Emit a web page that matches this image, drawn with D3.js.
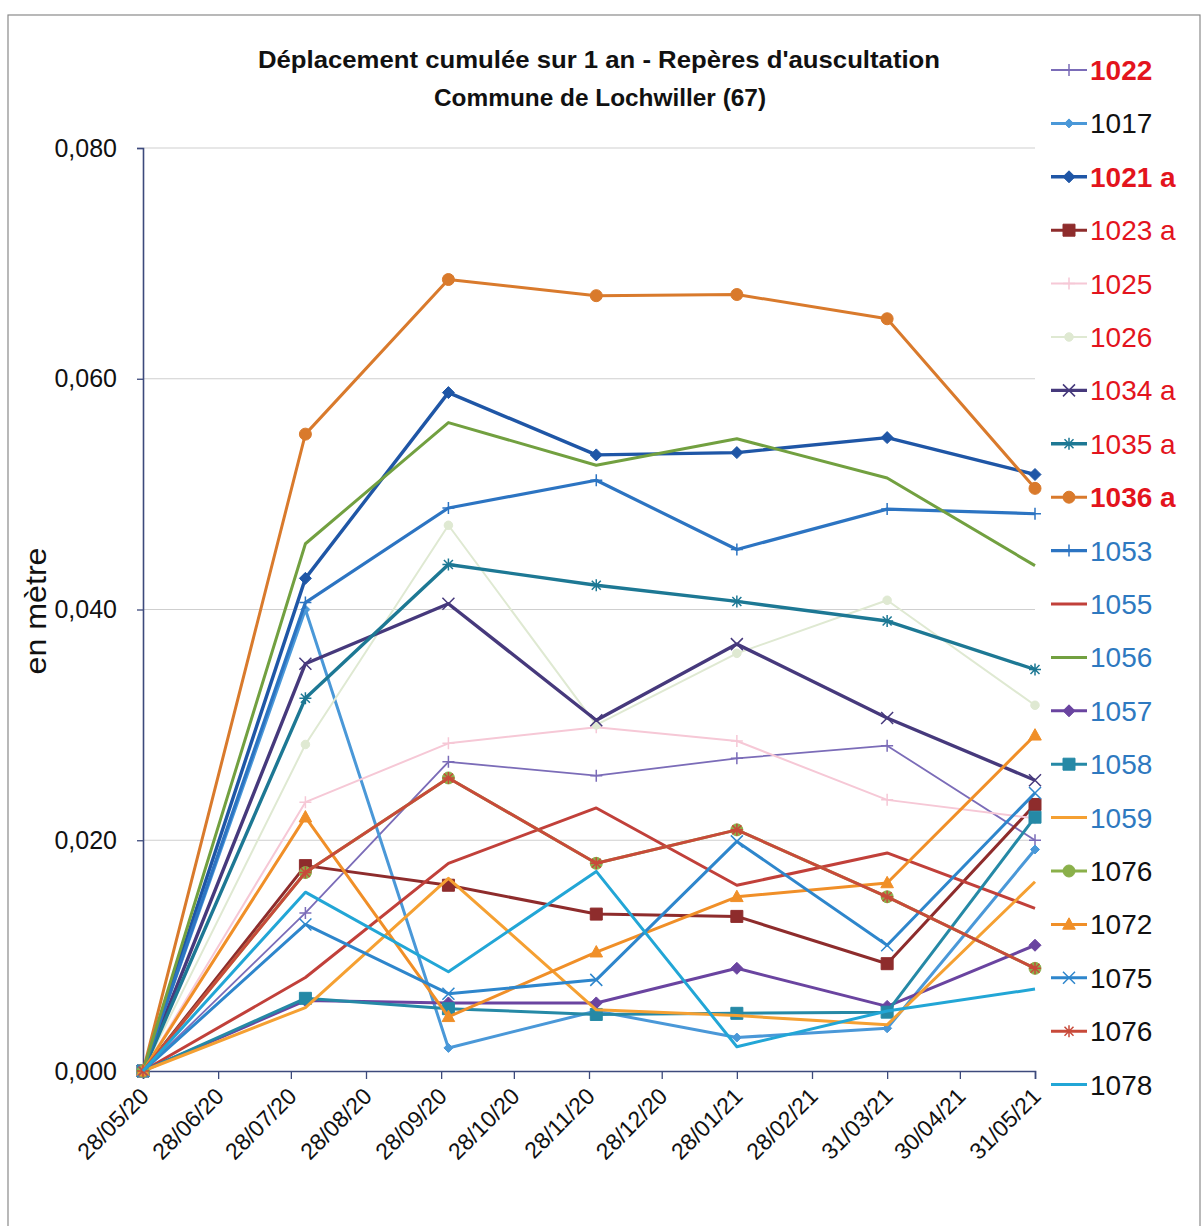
<!DOCTYPE html>
<html>
<head>
<meta charset="utf-8">
<script src="https://cdn.jsdelivr.net/npm/d3@7"></script>
<style>
  body { margin: 0; background: #fff; }
  svg { display: block; }
</style>
</head>
<body>
<script>
// measurement dates and axis ticks
var dates = ["2020-05-28", "2020-08-03", "2020-10-01", "2020-12-01", "2021-01-28", "2021-03-31", "2021-05-31"];
var tickDates = ["2020-05-28", "2020-06-28", "2020-07-28", "2020-08-28", "2020-09-28", "2020-10-28", "2020-11-28",
                 "2020-12-28", "2021-01-28", "2021-02-28", "2021-03-31", "2021-04-30", "2021-05-31"];
var yTicks = [0, 0.02, 0.04, 0.06, 0.08];

var names = ["1022", "1017", "1021 a", "1023 a", "1025", "1026", "1034 a", "1035 a", "1036 a", "1053",
             "1055", "1056", "1057", "1058", "1059", "1076", "1072", "1075", "1076", "1078"];

// cumulated displacement (m)
var v1022  = [0, 0.0137, 0.0268, 0.0256, 0.0271, 0.0282, 0.0200];
var v1017  = [0, 0.0400, 0.0020, 0.0052, 0.0029, 0.0037, 0.0192];
var v1021a = [0, 0.0427, 0.0588, 0.0534, 0.0536, 0.0549, 0.0517];
var v1023a = [0, 0.0178, 0.0161, 0.0136, 0.0134, 0.0093, 0.0231];
var v1025  = [0, 0.0233, 0.0284, 0.0298, 0.0286, 0.0235, 0.0219];
var v1026  = [0, 0.0283, 0.0473, 0.0300, 0.0362, 0.0408, 0.0317];
var v1034a = [0, 0.0353, 0.0405, 0.0304, 0.0370, 0.0306, 0.0252];
var v1035a = [0, 0.0323, 0.0439, 0.0421, 0.0407, 0.0390, 0.0348];
var v1036a = [0, 0.0552, 0.0686, 0.0672, 0.0673, 0.0652, 0.0505];
var v1053  = [0, 0.0406, 0.0488, 0.0512, 0.0452, 0.0487, 0.0483];
var v1055  = [0, 0.0081, 0.0180, 0.0228, 0.0161, 0.0189, 0.0141];
var v1056  = [0, 0.0457, 0.0562, 0.0525, 0.0548, 0.0514, 0.0438];
var v1057  = [0, 0.0061, 0.0059, 0.0059, 0.0089, 0.0056, 0.0109];
var v1058  = [0, 0.0063, 0.0054, 0.0049, 0.0050, 0.0051, 0.0220];
var v1059  = [0, 0.0055, 0.0167, 0.0053, 0.0048, 0.0040, 0.0164];
var v1076g = [0, 0.0172, 0.0254, 0.0180, 0.0209, 0.0151, 0.0089];
var v1072  = [0, 0.0220, 0.0047, 0.0103, 0.0151, 0.0163, 0.0291];
var v1075  = [0, 0.0127, 0.0067, 0.0079, 0.0199, 0.0109, 0.0241];
var v1076r = [0, 0.0172, 0.0254, 0.0180, 0.0209, 0.0151, 0.0089];
var v1078  = [0, 0.0155, 0.0086, 0.0173, 0.0021, 0.0052, 0.0071];

var values = [v1022, v1017, v1021a, v1023a, v1025, v1026, v1034a, v1035a, v1036a, v1053,
              v1055, v1056, v1057, v1058, v1059, v1076g, v1072, v1075, v1076r, v1078];

// styles
var colors = ["#7b6cb8", "#4a98d8", "#1f56a6", "#8e2c2c", "#f6c8d6", "#dfe9d2", "#46397c", "#1d7894", "#d97a2c", "#2c74c2",
              "#c1403a", "#72a040", "#6a44a0", "#2589a6", "#f5a032", "#8ab04a", "#f08f28", "#2e86cc", "#c84a3a", "#22a6d6"];
var markers = ["plus", "diamondS", "diamond", "square", "plus", "circleS", "x", "star", "circle", "plus",
               "none", "none", "diamond", "square", "none", "circle", "triangle", "x", "star", "none"];
var widths = [1.8, 3, 3.4, 3, 2, 2, 3.4, 3.4, 3, 3.2, 3, 3, 3, 3, 3, 3, 3, 3, 3, 3];
var labelColors = ["#e3141d", "#111", "#e3141d", "#e3141d", "#e3141d", "#e3141d", "#e3141d", "#e3141d", "#e3141d", "#2e79c0",
                   "#2e79c0", "#2e79c0", "#2e79c0", "#2e79c0", "#2e79c0", "#111", "#111", "#111", "#111", "#111"];
var labelBold = [true, false, true, false, false, false, false, false, true, false,
                 false, false, false, false, false, false, false, false, false, false];

var W = 1203, H = 1226;
var plotL = 143, plotR = 1035, plotT = 148, plotB = 1071;

var parse = d3.timeParse("%Y-%m-%d");
var fr = d3.formatLocale({decimal: ",", thousands: " ", grouping: [3], currency: ["", " €"]});

var svg = d3.select("body").append("svg")
  .attr("width", W)
  .attr("height", H)
  .style("font-family", "'Liberation Sans', Arial, sans-serif");

// outer frame
svg.append("rect")
  .attr("x", 8).attr("y", 15)
  .attr("width", 1192).attr("height", 1240)
  .attr("fill", "none")
  .attr("stroke", "#8a8a8a")
  .attr("stroke-width", 1.2);

var x = d3.scaleTime()
  .domain([parse(tickDates[0]), parse(tickDates[tickDates.length - 1])])
  .range([plotL, plotR]);
var y = d3.scaleLinear().domain([0, 0.08]).range([plotB, plotT]);

// gridlines
svg.append("g").selectAll("line")
  .data(yTicks.slice(1))
  .enter().append("line")
  .attr("x1", plotL).attr("x2", plotR)
  .attr("y1", function(d) { return y(d); })
  .attr("y2", function(d) { return y(d); })
  .attr("stroke", "#cfcfcf")
  .attr("stroke-width", 1.2);

// axes
var yAxis = svg.append("g")
  .attr("transform", "translate(" + plotL + ",0)")
  .call(d3.axisLeft(y).tickValues(yTicks).tickFormat(fr.format(".3f")).tickSize(6).tickPadding(20));
var xAxis = svg.append("g")
  .attr("transform", "translate(0," + plotB + ")")
  .call(d3.axisBottom(x).tickValues(tickDates.map(parse)).tickFormat(d3.timeFormat("%d/%m/%y")).tickSize(8));

[yAxis, xAxis].forEach(function(a) {
  a.select(".domain").attr("stroke", "#3d4a7c").attr("stroke-width", 1.6);
  a.selectAll(".tick line").attr("stroke", "#3d4a7c").attr("stroke-width", 1.3);
});
yAxis.selectAll("text")
  .attr("font-size", "25px")
  .attr("fill", "#111")
  .attr("font-family", "'Liberation Sans', Arial, sans-serif");
xAxis.selectAll("text")
  .attr("font-size", "23px")
  .attr("fill", "#111")
  .attr("font-family", "'Liberation Sans', Arial, sans-serif")
  .attr("text-anchor", "end")
  .attr("dy", "0.35em")
  .attr("x", 0).attr("y", 0)
  .attr("transform", "translate(1,21) rotate(-45)");

// markers
function markerPath(type, s) {
  switch (type) {
    case "plus": return "M" + (-s) + ",0H" + s + "M0," + (-s) + "V" + s;
    case "x": return "M" + (-s) + "," + (-s) + "L" + s + "," + s + "M" + (-s) + "," + s + "L" + s + "," + (-s);
    case "star": return "M" + (-s) + ",0H" + s + "M0," + (-s) + "V" + s +
      "M" + (-s * 0.75) + "," + (-s * 0.75) + "L" + (s * 0.75) + "," + (s * 0.75) +
      "M" + (-s * 0.75) + "," + (s * 0.75) + "L" + (s * 0.75) + "," + (-s * 0.75);
    case "diamond": return "M0," + (-s) + "L" + s + ",0L0," + s + "L" + (-s) + ",0Z";
    case "diamondS": return "M0," + (-s * 0.75) + "L" + (s * 0.75) + ",0L0," + (s * 0.75) + "L" + (-s * 0.75) + ",0Z";
    case "square": return "M" + (-s) + "," + (-s) + "H" + s + "V" + s + "H" + (-s) + "Z";
    case "triangle": return "M0," + (-s * 1.1) + "L" + (s * 1.05) + "," + (s * 0.8) + "L" + (-s * 1.05) + "," + (s * 0.8) + "Z";
    case "circle": return d3.symbol().type(d3.symbolCircle).size(Math.PI * s * s)();
    case "circleS": return d3.symbol().type(d3.symbolCircle).size(Math.PI * s * s * 0.5)();
  }
  return null;
}
function isStroke(type) { return type === "plus" || type === "x" || type === "star"; }

function drawMarker(g, type, color, cx, cy) {
  if (type === "none") return;
  var p = g.append("path")
    .attr("d", markerPath(type, 6))
    .attr("transform", "translate(" + cx + "," + cy + ")");
  if (isStroke(type)) {
    p.attr("fill", "none").attr("stroke", color).attr("stroke-width", 1.5);
  } else {
    p.attr("fill", color).attr("stroke", color).attr("stroke-width", 1);
  }
}

var line = d3.line()
  .x(function(d) { return x(d.date); })
  .y(function(d) { return y(d.v); });

var plot = svg.append("g");
values.forEach(function(vals, i) {
  var pts = vals.map(function(v, k) { return {date: parse(dates[k]), v: v}; });
  var g = plot.append("g").attr("class", "series");
  g.append("path")
    .datum(pts)
    .attr("d", line)
    .attr("fill", "none")
    .attr("stroke", colors[i])
    .attr("stroke-width", widths[i])
    .attr("stroke-linejoin", "round");
  pts.forEach(function(p) {
    drawMarker(g, markers[i], colors[i], x(p.date), y(p.v));
  });
});

// legend
var legY0 = 70, legStep = 53.4;
names.forEach(function(n, i) {
  var ly = legY0 + legStep * i;
  var g = svg.append("g");
  g.append("line")
    .attr("x1", 1051).attr("x2", 1087)
    .attr("y1", ly).attr("y2", ly)
    .attr("stroke", colors[i])
    .attr("stroke-width", widths[i]);
  drawMarker(g, markers[i], colors[i], 1069, ly);
  g.append("text")
    .attr("x", 1090).attr("y", ly + 10)
    .attr("font-size", "28px")
    .attr("font-weight", labelBold[i] ? "bold" : "normal")
    .attr("fill", labelColors[i])
    .text(n);
});

// titles
svg.append("text")
  .attr("x", 599).attr("y", 68)
  .attr("text-anchor", "middle")
  .attr("font-size", "24px").attr("font-weight", "bold").attr("fill", "#111")
  .attr("font-family", "'Liberation Sans Narrow', 'Liberation Sans', Arial, sans-serif")
  .attr("textLength", 682).attr("lengthAdjust", "spacingAndGlyphs")
  .text("Déplacement cumulée sur 1 an - Repères d'auscultation");
svg.append("text")
  .attr("x", 600).attr("y", 106)
  .attr("text-anchor", "middle")
  .attr("font-size", "24px").attr("font-weight", "bold").attr("fill", "#111")
  .attr("font-family", "'Liberation Sans Narrow', 'Liberation Sans', Arial, sans-serif")
  .attr("textLength", 332).attr("lengthAdjust", "spacingAndGlyphs")
  .text("Commune de Lochwiller (67)");

svg.append("text")
  .attr("transform", "translate(46,611) rotate(-90)")
  .attr("text-anchor", "middle")
  .attr("font-size", "30px").attr("fill", "#111")
  .attr("textLength", 127).attr("lengthAdjust", "spacingAndGlyphs")
  .text("en mètre");
</script>
</body>
</html>
